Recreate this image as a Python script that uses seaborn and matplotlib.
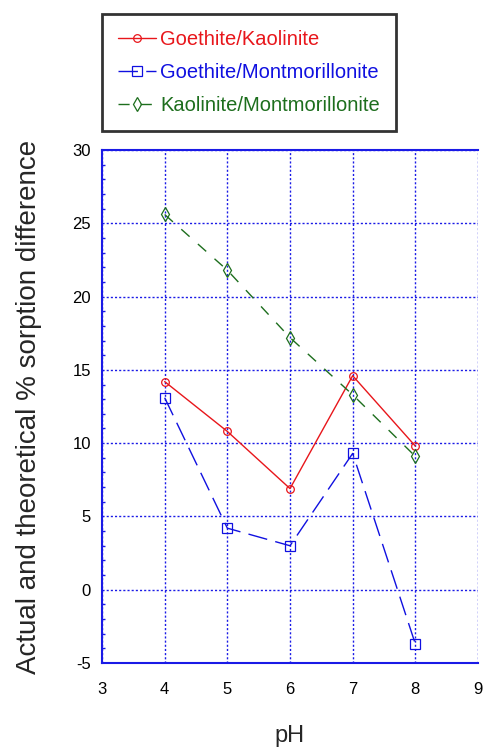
import matplotlib
matplotlib.use("Agg")
import matplotlib.pyplot as plt
from matplotlib.ticker import MultipleLocator
import seaborn as sns
import pandas as pd

# data
ph = [4, 5, 6, 7, 8]
goethite_kaolinite = [14.2, 10.8, 6.9, 14.6, 9.8]
goethite_montmorillonite = [13.1, 4.2, 3.0, 9.3, -3.7]
kaolinite_montmorillonite = [25.6, 21.8, 17.2, 13.3, 9.1]

x_ticks = [3, 4, 5, 6, 7, 8, 9]
y_ticks = [-5, 0, 5, 10, 15, 20, 25, 30]

sns.set_theme(style="white")
narrow = ["Liberation Sans Narrow", "Liberation Sans", "DejaVu Sans"]
plt.rcParams["font.family"] = narrow
plt.rcParams["axes.unicode_minus"] = False

fig = plt.figure(figsize=(4.83, 7.49), dpi=100)
ax = fig.add_axes([102 / 483, 86 / 749, 376 / 483, 513 / 749])

df = pd.DataFrame({"pH": ph, "gk": goethite_kaolinite,
                   "gm": goethite_montmorillonite, "km": kaolinite_montmorillonite})

sns.lineplot(data=df, x="pH", y="gk", ax=ax, color="#e8161b", linewidth=1.0,
             marker="o", markersize=5.5, markerfacecolor="none", markeredgecolor="#e8161b",
             markeredgewidth=0.9, label="Goethite/Kaolinite")
sns.lineplot(data=df, x="pH", y="gm", ax=ax, color="#1010e0", linewidth=1.0,
             linestyle=(0, (14, 6)),
             marker="s", markersize=6.5, markerfacecolor="none", markeredgecolor="#1010e0",
             markeredgewidth=0.9, label="Goethite/Montmorillonite")
sns.lineplot(data=df, x="pH", y="km", ax=ax, color="#1d6e1d", linewidth=1.0,
             linestyle=(0, (8, 8)),
             marker="d", markersize=7, markerfacecolor="none", markeredgecolor="#1d6e1d",
             markeredgewidth=0.9, label="Kaolinite/Montmorillonite")

ax.set_xlim(3, 9)
ax.set_ylim(-5, 30)
ax.set_xticks(x_ticks)
ax.set_yticks(y_ticks)
ax.yaxis.set_minor_locator(MultipleLocator(1))
ax.grid(True, which="major", color="#1a1ae6", linestyle=(0, (1.5, 1.5)), linewidth=1.0)
for side in ["left", "bottom", "top"]:
    ax.spines[side].set_color("#1a1ae6")
    ax.spines[side].set_linewidth(1.5)
ax.spines["right"].set_visible(False)
ax.tick_params(axis="both", which="major", direction="in", length=3, color="#1a1ae6",
               labelsize=12, labelcolor="black", pad=8)
ax.tick_params(axis="y", which="minor", direction="in", length=2, color="#1a1ae6", left=True)
ax.tick_params(axis="x", pad=14)

ax.set_xlabel("pH", fontsize=17, labelpad=20)
ax.set_ylabel("Actual and theoretical % sorption difference", fontsize=20,
              family=["Liberation Sans", "DejaVu Sans"], labelpad=22)

leg = ax.legend(loc="upper left", bbox_to_anchor=(102 / 483, 1 - 14 / 749),
                bbox_transform=fig.transFigure, borderaxespad=0, fancybox=False,
                frameon=True, edgecolor="black", fontsize=14.5, handlelength=1.9,
                handletextpad=0.2, labelspacing=0.7, borderpad=0.8)
leg.get_frame().set_linewidth(2)
for txt, c in zip(leg.get_texts(), ["#e8161b", "#1010e0", "#1d6e1d"]):
    txt.set_color(c)

fig.savefig("out.png", dpi=100)
